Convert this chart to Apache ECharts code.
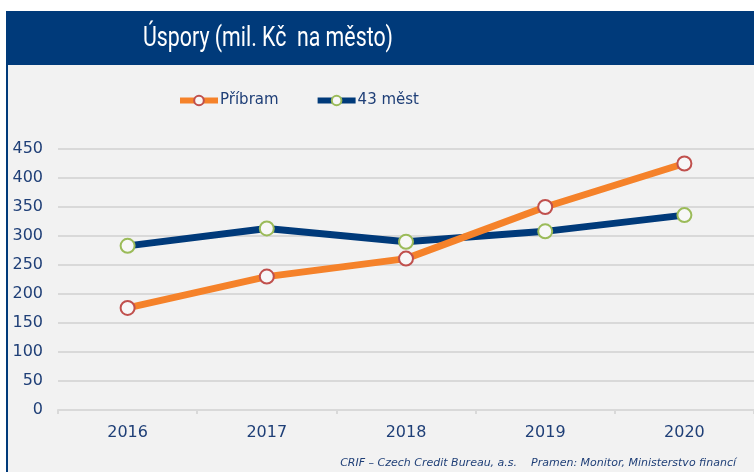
<!DOCTYPE html>
<html>
<head>
<meta charset="utf-8">
<script src="https://cdn.jsdelivr.net/npm/echarts@6/dist/echarts.min.js"></script>
<style>
html, body { margin: 0; padding: 0; background: #fff; }
#main { width: 754px; height: 472px; }
</style>
</head>
<body>
<div id="main"></div>
<script>
var years = ['2016', '2017', '2018', '2019', '2020'];
var pribram = [176, 230, 261, 350, 425];
var mest43 = [283, 313, 290, 308, 336];
var yTicks = [0, 450, 50]; // min, max, interval

var navy = '#003a7a';
var textBlue = '#1f3f77';
var font = 'DejaVu Sans';
var titleText = 'Úspory (mil. Kč  na město)';
var titleFont = '27px Roboto';

// squeeze the title to the narrow width of the original
var ctx = document.createElement('canvas').getContext('2d');
ctx.font = titleFont;
var titleScale = 250 / ctx.measureText(titleText).width;

var myChart = echarts.init(document.getElementById('main'));

var option = {
	backgroundColor : '#ffffff',
	animation : false,
	graphic : [ {
		type : 'rect',
		shape : { x : 6, y : 11, width : 748, height : 54 },
		style : { fill : navy },
		z : -10
	}, {
		type : 'rect',
		shape : { x : 6, y : 65, width : 748, height : 407 },
		style : { fill : '#f2f2f2' },
		z : -10
	}, {
		type : 'rect',
		shape : { x : 6, y : 65, width : 2, height : 407 },
		style : { fill : navy },
		z : -9
	}, {
		type : 'text',
		x : 268,
		y : 39,
		scaleX : titleScale,
		style : {
			text : titleText,
			fill : '#ffffff',
			font : titleFont,
			align : 'center',
			verticalAlign : 'middle'
		}
	}, {
		type : 'text',
		x : 736,
		y : 463,
		style : {
			text : 'CRIF – Czech Credit Bureau, a.s.    Pramen: Monitor, Ministerstvo financí',
			fill : textBlue,
			font : 'italic 11px "DejaVu Sans"',
			align : 'right',
			verticalAlign : 'middle'
		}
	} ],
	legend : {
		left : 177,
		top : 93,
		padding : 0,
		itemWidth : 38,
		itemHeight : 12,
		itemGap : 36,
		textStyle : { color : textBlue, fontSize : 15, fontFamily : font, padding : [0, 0, 0, -3] },
		data : [ {
			name : 'Příbram',
			lineStyle : { width : 6 }
		}, {
			name : '43 měst',
			lineStyle : { width : 6 }
		} ]
	},
	grid : {
		left : 58,
		right : 0,
		top : 149,
		bottom : 62
	},
	xAxis : {
		type : 'category',
		data : years,
		boundaryGap : true,
		axisLine : { lineStyle : { color : '#d9d9d9', width : 2 } },
		axisTick : { show : true, length : 4, lineStyle : { color : '#d9d9d9', width : 2 } },
		axisLabel : { color : textBlue, fontSize : 16, fontFamily : font, margin : 15 }
	},
	yAxis : {
		type : 'value',
		min : yTicks[0],
		max : yTicks[1],
		interval : yTicks[2],
		axisLine : { show : false },
		axisTick : { show : false },
		splitLine : { lineStyle : { color : '#d9d9d9', width : 2 } },
		axisLabel : { color : textBlue, fontSize : 16, fontFamily : font, margin : 15 }
	},
	series : [ {
		name : 'Příbram',
		type : 'line',
		data : pribram,
		symbol : 'circle',
		symbolSize : 14,
		lineStyle : { color : '#f5822a', width : 7 },
		itemStyle : { color : '#f7f7f7', borderColor : '#c0504d', borderWidth : 2 },
		z : 3
	}, {
		name : '43 měst',
		type : 'line',
		data : mest43,
		symbol : 'circle',
		symbolSize : 14,
		lineStyle : { color : navy, width : 7 },
		itemStyle : { color : '#f7f7f7', borderColor : '#9bbb59', borderWidth : 2 },
		z : 2
	} ]
};
myChart.setOption(option);
</script>
</body>
</html>
